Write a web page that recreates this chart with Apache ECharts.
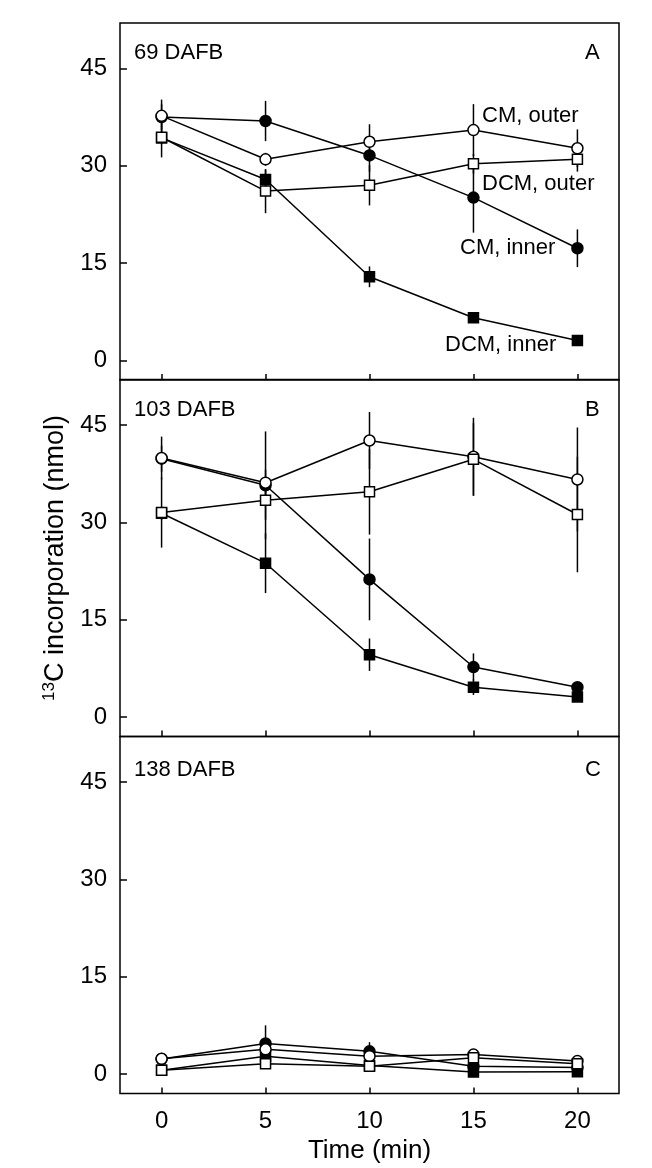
<!DOCTYPE html>
<html>
<head>
<meta charset="utf-8">
<script src="https://cdn.jsdelivr.net/npm/echarts@6/dist/echarts.min.js"></script>
<style>
  html, body { margin: 0; padding: 0; background: #fff; }
  #main { width: 652px; height: 1168px; }
</style>
</head>
<body>
<div id="main"></div>
<script>
// time points (min)
var times = [0, 5, 10, 15, 20];
var xTicks = [0, 5, 10, 15, 20];
var yTicks = [0, 15, 30, 45];
var panelNames = ['69 DAFB', '103 DAFB', '138 DAFB'];
var panelLetters = ['A', 'B', 'C'];

// 69 DAFB
var cmOuterA = [37.7, 31.0, 33.7, 35.5, 32.7];
var cmOuterAErr = [2.5, 1.0, 2.7, 4.0, 2.9];
var cmInnerA = [37.5, 36.9, 31.6, 25.1, 17.3];
var cmInnerAErr = [2.0, 3.1, 2.5, 5.4, 2.9];
var dcmOuterA = [34.4, 26.1, 27.0, 30.3, 31.0];
var dcmOuterAErr = [3.1, 3.4, 3.1, 1.5, 1.9];
var dcmInnerA = [34.3, 27.9, 12.9, 6.6, 3.1];
var dcmInnerAErr = [1.0, 1.5, 1.6, 0.8, 0.5];

// 103 DAFB
var cmOuterB = [39.9, 36.1, 42.6, 40.1, 36.6];
var cmOuterBErr = [3.3, 2.0, 4.4, 6.0, 8.0];
var cmInnerB = [39.8, 35.7, 21.2, 7.7, 4.6];
var cmInnerBErr = [2.0, 8.3, 6.3, 2.1, 0.5];
var dcmOuterB = [31.5, 33.4, 34.7, 39.7, 31.2];
var dcmOuterBErr = [5.4, 3.0, 6.6, 5.6, 8.9];
var dcmInnerB = [31.4, 23.7, 9.6, 4.6, 3.1];
var dcmInnerBErr = [1.0, 4.6, 2.5, 1.2, 0.5];

// 138 DAFB
var cmOuterC = [2.35, 3.8, 2.75, 3.0, 2.0];
var cmOuterCErr = [0.3, 0.5, 0.5, 0.8, 0.3];
var cmInnerC = [2.3, 4.7, 3.5, 1.2, 1.0];
var cmInnerCErr = [0.3, 2.8, 1.4, 0.5, 0.3];
var dcmOuterC = [0.6, 1.6, 1.2, 2.5, 1.6];
var dcmOuterCErr = [0.3, 0.5, 0.3, 0.5, 0.3];
var dcmInnerC = [0.6, 2.75, 1.3, 0.3, 0.35];
var dcmInnerCErr = [0.3, 0.5, 0.3, 0.3, 0.3];

var panels = [
  [cmInnerA, cmInnerAErr, dcmInnerA, dcmInnerAErr, cmOuterA, cmOuterAErr, dcmOuterA, dcmOuterAErr],
  [cmInnerB, cmInnerBErr, dcmInnerB, dcmInnerBErr, cmOuterB, cmOuterBErr, dcmOuterB, dcmOuterBErr],
  [cmInnerC, cmInnerCErr, dcmInnerC, dcmInnerCErr, cmOuterC, cmOuterCErr, dcmOuterC, dcmOuterCErr]
];
// marker style for each of the four series (same order as above)
var markers = [
  { symbol: 'circle', size: 11, fill: '#000' },
  { symbol: 'rect', size: 10, fill: '#000' },
  { symbol: 'circle', size: 11, fill: '#fff' },
  { symbol: 'rect', size: 10, fill: '#fff' }
];

var FONT = 'Liberation Sans, Arial, sans-serif';
var gridTops = [23, 379.5, 736.5];
var gridH = 357;

var chart = echarts.init(document.getElementById('main'));

var grids = [], xAxes = [], yAxes = [], series = [];
for (var p = 0; p < 3; p++) {
  grids.push({
    left: 120, right: 33, top: gridTops[p], height: gridH,
    show: true, borderColor: '#000', borderWidth: 1.5, containLabel: false
  });
  xAxes.push({
    gridIndex: p, type: 'value', min: -2, max: 22,
    axisLine: { show: false, onZero: false },
    splitLine: { show: false },
    axisTick: { show: true, inside: true, length: 6, customValues: xTicks, lineStyle: { color: '#000', width: 1.5 } },
    axisLabel: { show: p === 2, customValues: xTicks, margin: 16, color: '#000', fontSize: 24, fontFamily: FONT },
    name: p === 2 ? 'Time (min)' : '',
    nameLocation: 'middle', nameGap: 44,
    nameTextStyle: { color: '#000', fontSize: 26, fontFamily: FONT }
  });
  yAxes.push({
    gridIndex: p, type: 'value', min: -3, max: 52,
    axisLine: { show: false, onZero: false },
    splitLine: { show: false },
    axisTick: { show: true, inside: true, length: 7, customValues: yTicks, lineStyle: { color: '#000', width: 1.5 } },
    axisLabel: { customValues: yTicks, margin: 13, color: '#000', fontSize: 24, fontFamily: FONT },
    name: p === 1 ? '{sup|13}C incorporation (nmol)' : '',
    nameLocation: 'middle', nameRotate: 90, nameGap: 48,
    nameTextStyle: {
      color: '#000', fontSize: 27, fontFamily: FONT,
      rich: {
        sup: { fontSize: 17, fontFamily: FONT, color: '#000', verticalAlign: 'top', padding: [0, 0, 13, 0] }
      }
    }
  });

  var d = panels[p];
  for (var s = 0; s < 4; s++) {
    var vals = d[s * 2], errs = d[s * 2 + 1];
    var m = markers[s];
    var errData = times.map(function (t, i) { return [t, vals[i], errs[i]]; });
    series.push({
      type: 'custom', xAxisIndex: p, yAxisIndex: p, z: 1,
      data: errData,
      renderItem: function (params, api) {
        var top = api.coord([api.value(0), api.value(1) + api.value(2)]);
        var bot = api.coord([api.value(0), api.value(1) - api.value(2)]);
        return {
          type: 'line',
          shape: { x1: top[0], y1: top[1], x2: bot[0], y2: bot[1] },
          style: { stroke: '#000', lineWidth: 1.5 }
        };
      }
    });
    series.push({
      type: 'line', xAxisIndex: p, yAxisIndex: p, z: 2 + s,
      data: times.map(function (t, i) { return [t, vals[i]]; }),
      symbol: m.symbol, symbolSize: m.size, showSymbol: true,
      lineStyle: { color: '#000', width: 1.5 },
      itemStyle: { color: m.fill, borderColor: '#000', borderWidth: 1.5, opacity: 1 }
    });
  }
}

var textStyle = { fill: '#000', fontSize: 22, fontFamily: FONT };
var graphics = [];
var nameY = [54, 411, 771];
for (var q = 0; q < 3; q++) {
  graphics.push({ type: 'text', left: 134, top: nameY[q] - 12, style: Object.assign({ text: panelNames[q] }, textStyle) });
  graphics.push({ type: 'text', left: 585, top: nameY[q] - 12, style: Object.assign({ text: panelLetters[q] }, textStyle) });
}
// series labels in panel A
var seriesLabels = [
  ['CM, outer', 482, 117],
  ['DCM, outer', 482, 185],
  ['CM, inner', 460, 249],
  ['DCM, inner', 445, 346]
];
seriesLabels.forEach(function (l) {
  graphics.push({ type: 'text', left: l[1], top: l[2] - 12, style: Object.assign({ text: l[0] }, textStyle) });
});

chart.setOption({
  animation: false,
  backgroundColor: '#fff',
  grid: grids,
  xAxis: xAxes,
  yAxis: yAxes,
  series: series,
  graphic: graphics
});
</script>
</body>
</html>
